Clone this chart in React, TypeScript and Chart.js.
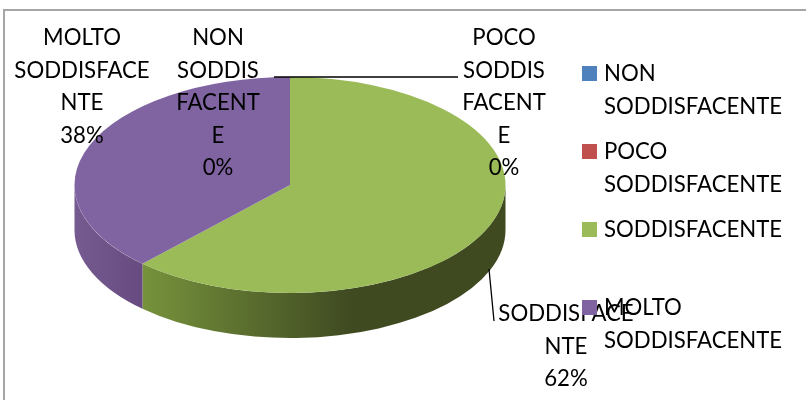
import React, { useEffect, useRef } from "react";
import { Chart, registerables } from "chart.js";

Chart.register(...registerables);

const categories = ["NON SODDISFACENTE", "POCO SODDISFACENTE", "SODDISFACENTE", "MOLTO SODDISFACENTE"];
const values = [0, 0, 62, 38];
const colors = ["#4F81BD", "#C0504D", "#9BBB59", "#8064A2"];
const legendLines = [["NON", "SODDISFACENTE"], ["POCO", "SODDISFACENTE"], ["SODDISFACENTE"], ["MOLTO", "SODDISFACENTE"]];
const labelLines = [
  ["NON", "SODDIS", "FACENT", "E", "0%"],
  ["POCO", "SODDIS", "FACENT", "E", "0%"],
  ["SODDISFACE", "NTE", "62%"],
  ["MOLTO", "SODDISFACE", "NTE", "38%"],
];

const FONT = '22.2px "Lato"';
const CX = 290;
const CY = 185;
const RX = 215.5;
const RY = 108;
const DEPTH = 45;
const BASE_R = 100;

const labelPos = [
  { x: 218, y: 45 },
  { x: 504, y: 45 },
  { x: 566, y: 321 },
  { x: 82, y: 45 },
];
const legendPos = [
  { y: 66, base: 81 },
  { y: 144, base: 159 },
  { y: 222, base: 237 },
  { y: 300, base: 315 },
];

const pie3d = {
  id: "pie3d",
  beforeDatasetsDraw(chart: any) {
    const { ctx } = chart;
    const arcs = chart.getDatasetMeta(0).data;
    ctx.save();
    ctx.fillStyle = "#ffffff";
    ctx.fillRect(0, 0, 806, 400);
    ctx.fillStyle = "#a6a6a6";
    ctx.fillRect(3, 9, 803, 2);
    ctx.fillRect(3, 9, 2, 391);

    const sideFill = (i: number) => {
      if (i === 2) {
        const g = ctx.createLinearGradient(143, 0, 352, 0);
        g.addColorStop(0, "#76923C");
        g.addColorStop(1, "#3F4A21");
        return g;
      }
      const g = ctx.createLinearGradient(74, 0, 143, 0);
      g.addColorStop(0, "#755B90");
      g.addColorStop(1, "#674B80");
      return g;
    };

    arcs.forEach((arc: any, i: number) => {
      if (arc.endAngle - arc.startAngle <= 0) return;
      const a = Math.max(arc.startAngle, 0);
      const b = Math.min(arc.endAngle, Math.PI);
      if (b <= a) return;
      ctx.beginPath();
      ctx.ellipse(CX, CY, RX, RY, 0, a, b);
      ctx.ellipse(CX, CY + DEPTH, RX, RY, 0, b, a, true);
      ctx.closePath();
      ctx.fillStyle = sideFill(i);
      ctx.fill();
    });
    ctx.restore();

    ctx.save();
    ctx.translate(CX, CY);
    ctx.scale(RX / BASE_R, RY / BASE_R);
    ctx.translate(-CX, -CY);
  },
  afterDatasetsDraw(chart: any) {
    const { ctx } = chart;
    ctx.restore();
    ctx.save();

    ctx.strokeStyle = "#000000";
    ctx.lineWidth = 1.3;
    ctx.beginPath();
    ctx.moveTo(274, 77);
    ctx.lineTo(458, 77);
    ctx.moveTo(489, 269);
    ctx.lineTo(494, 321);
    ctx.stroke();

    ctx.font = FONT;
    ctx.fillStyle = "#000000";
    ctx.textBaseline = "alphabetic";
    ctx.textAlign = "center";
    labelLines.forEach((lines, i) => {
      lines.forEach((t, j) => {
        ctx.fillText(t, labelPos[i].x, labelPos[i].y + j * 32.6);
      });
    });

    ctx.textAlign = "left";
    categories.forEach((_, i) => {
      ctx.fillStyle = colors[i];
      ctx.fillRect(582, legendPos[i].y, 15, 15);
      ctx.fillStyle = "#000000";
      legendLines[i].forEach((t, j) => {
        ctx.fillText(t, 604, legendPos[i].base + j * 33);
      });
    });
    ctx.restore();
  },
};

export default function App() {
  const ref = useRef<HTMLCanvasElement>(null);
  useEffect(() => {
    document.body.style.margin = "0";
    const chart = new Chart(ref.current!, {
      type: "pie",
      data: {
        labels: categories,
        datasets: [{ data: values, backgroundColor: colors, borderWidth: 0 }],
      },
      options: {
        responsive: false,
        animation: false,
        layout: {
          padding: {
            left: CX - BASE_R,
            right: 806 - CX - BASE_R,
            top: CY - BASE_R,
            bottom: 400 - CY - BASE_R,
          },
        },
        plugins: { legend: { display: false }, tooltip: { enabled: false } },
      },
      plugins: [pie3d],
    });
    return () => chart.destroy();
  }, []);
  return <canvas ref={ref} width={806} height={400} style={{ display: "block" }} />;
}
